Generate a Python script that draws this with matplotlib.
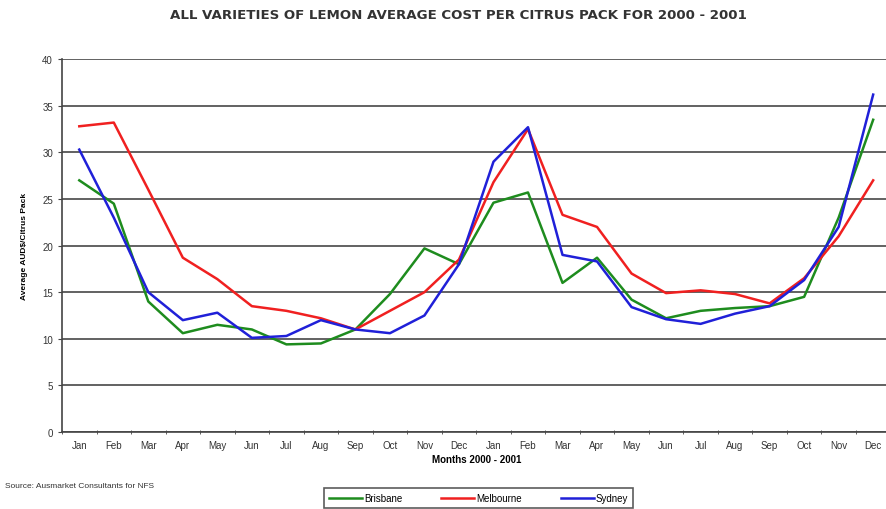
import matplotlib
matplotlib.use("Agg")
import matplotlib.pyplot as plt
import numpy as np

months = ["Jan", "Feb", "Mar", "Apr", "May", "Jun", "Jul", "Aug", "Sep", "Oct", "Nov", "Dec",
          "Jan", "Feb", "Mar", "Apr", "May", "Jun", "Jul", "Aug", "Sep", "Oct", "Nov", "Dec"]

brisbane = [27.0, 24.5, 14.0, 10.6, 11.5, 11.0, 9.4, 9.5, 11.0, 14.8, 19.7, 18.0,
            24.6, 25.7, 16.0, 18.7, 14.2, 12.2, 13.0, 13.3, 13.5, 14.5, 23.0, 33.5]
melbourne = [32.8, 33.2, 26.0, 18.7, 16.4, 13.5, 13.0, 12.2, 11.0, 13.0, 15.0, 18.5,
             26.8, 32.5, 23.3, 22.0, 17.0, 14.9, 15.2, 14.8, 13.8, 16.5, 21.0, 27.0]
sydney = [30.3, 23.0, 15.0, 12.0, 12.8, 10.1, 10.3, 12.0, 11.0, 10.6, 12.5, 18.0,
          29.0, 32.7, 19.0, 18.3, 13.4, 12.1, 11.6, 12.7, 13.5, 16.3, 22.0, 36.2]

series = [("Brisbane", brisbane, "#1e8c1e"),
          ("Melbourne", melbourne, "#f02020"),
          ("Sydney", sydney, "#2020d8")]


def main():
    plt.rcParams["font.family"] = ["Liberation Sans", "DejaVu Sans"]
    fig = plt.figure(figsize=(8.86, 5.10), dpi=100)
    ax = fig.add_axes([0.07, 0.151, 0.935, 0.731])

    x = np.arange(len(months))
    for name, values, color in series:
        ax.plot(x, values, color=color, linewidth=1.8, label=name)

    ax.set_xlim(-0.5, len(months) - 0.5)
    ax.set_ylim(0, 40)
    ax.set_yticks(range(0, 41, 5))
    ax.yaxis.grid(True, color="#555555", linewidth=1.3)
    ax.set_axisbelow(True)
    ax.set_xticks(x)
    ax.set_xticklabels(months, fontsize=7, color="#333333")
    ax.set_xticks(np.arange(-0.5, len(months), 1), minor=True)
    ax.tick_params(axis="x", which="major", length=0, pad=6)
    ax.tick_params(axis="x", which="minor", length=3, direction="inout", color="#444444")
    ax.tick_params(axis="y", labelsize=7, labelcolor="#333333", length=3, color="#444444")
    for side in ["top", "right"]:
        ax.spines[side].set_visible(False)
    ax.spines["left"].set_color("#444444")
    ax.spines["bottom"].set_color("#444444")
    ax.spines["left"].set_linewidth(1.2)
    ax.spines["bottom"].set_linewidth(1.2)

    ax.set_ylabel("Average AUD$/Citrus Pack", fontsize=6, fontweight="bold", labelpad=10)
    ax.set_xlabel("Months 2000 - 2001", fontsize=7, fontweight="bold", labelpad=3)

    fig.text(0.517, 0.969, "ALL VARIETIES OF LEMON AVERAGE COST PER CITRUS PACK FOR 2000 - 2001",
             ha="center", va="center", fontsize=9.6, fontweight="bold",
             family="DejaVu Sans", color="#333333")
    fig.text(0.006, 0.047, "Source: Ausmarket Consultants for NFS", fontsize=6, color="#333333",
             ha="left", va="center")

    leg = fig.legend(loc="center", bbox_to_anchor=(0.54, 0.0216), ncol=3, fontsize=7,
                     frameon=True, fancybox=False, edgecolor="#333333",
                     handlelength=3.4, handletextpad=0.2, columnspacing=4.0,
                     borderpad=0.55, borderaxespad=0)
    leg.get_frame().set_linewidth(1.2)

    fig.savefig("out.png", dpi=100, facecolor="white")


if __name__ == "__main__":
    main()
